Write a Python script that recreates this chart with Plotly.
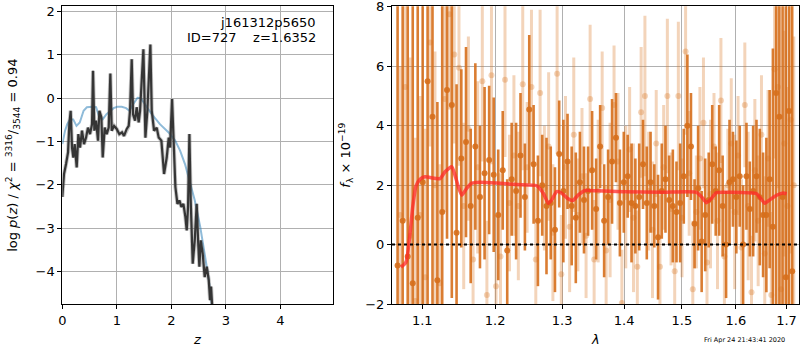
import plotly.graph_objects as go

# ---------------- left panel: p(z) ----------------
pz_z = [0.000, 0.031, 0.068, 0.105, 0.129, 0.153, 0.178, 0.202, 0.227, 0.264,
        0.294, 0.325, 0.361, 0.398, 0.435, 0.471, 0.508, 0.545, 0.563, 0.588,
        0.618, 0.655, 0.680, 0.716, 0.741, 0.777, 0.814, 0.851, 0.881, 0.906,
        0.949, 0.998, 1.046, 1.095, 1.132, 1.181, 1.218, 1.242, 1.273, 1.297,
        1.334, 1.364, 1.401, 1.426, 1.487, 1.524, 1.560, 1.615, 1.640, 1.683,
        1.731, 1.768, 1.817, 1.866, 1.915, 1.952, 1.976, 2.013, 2.037, 2.074,
        2.111, 2.147, 2.184, 2.221, 2.257, 2.282, 2.306, 2.331, 2.355, 2.392,
        2.429, 2.465, 2.490, 2.514, 2.539, 2.575, 2.612, 2.649, 2.686, 2.710,
        2.728, 2.753]
pz_logp = [-2.28, -1.75, -1.52, -1.25, -0.60, -0.29, -1.14, -1.37, -1.06, -1.60,
           -0.83, -1.14, -0.75, -1.06, -0.91, -0.68, -0.83, -0.60, 0.63, -0.75,
           -0.52, -0.98, -0.29, -0.44, -1.37, -0.68, -0.83, -0.68, 0.57, -0.75,
           -0.64, -0.71, -0.83, -0.79, -0.87, -0.71, -0.64, -0.29, 0.90, -0.37,
           -0.52, -0.21, -0.56, -0.29, 1.13, -0.91, -0.29, 1.24, -0.29, -0.75,
           -0.68, -0.91, -0.98, -1.75, -1.37, -0.91, -1.14, -0.02, -0.83, -2.05,
           -2.44, -2.36, -2.51, -2.44, -2.74, -3.05, -2.51, -0.83, -2.36, -3.82,
           -3.28, -2.44, -3.28, -3.89, -3.28, -3.59, -4.13, -3.89, -4.20, -4.66,
           -4.35, -4.89]

prior_z = [0.00, 0.05, 0.09, 0.14, 0.20, 0.26, 0.32, 0.39, 0.45, 0.54,
           0.62, 0.68, 0.74, 0.81, 0.87, 0.94, 1.01, 1.09, 1.17, 1.23,
           1.30, 1.38, 1.44, 1.52, 1.64, 1.79, 1.95, 2.07, 2.16, 2.25,
           2.34, 2.43, 2.53, 2.62, 2.68, 2.74, 2.77]
prior_logp = [-1.06, -0.75, -0.60, -0.49, -0.49, -0.64, -0.56, -0.29, -0.21, -0.20,
              -0.21, -0.44, -0.49, -0.37, -0.31, -0.23, -0.20, -0.20, -0.23, -0.29,
              -0.14, 0.01, 0.00, -0.14, -0.37, -0.60, -0.79, -0.98, -1.21, -1.52,
              -1.94, -2.36, -2.97, -3.66, -4.13, -4.74, -5.10]

z_ticks = [0, 1, 2, 3, 4]
logp_ticks = [-4, -3, -2, -1, 0, 1, 2]

# ---------------- right panel: spectrum ----------------
dark_wave = [1.0680, 1.0745, 1.0810, 1.0875, 1.0940, 1.1005, 1.1070, 1.1135, 1.1200, 1.1265,
             1.1330, 1.1395, 1.1460, 1.1525, 1.1590, 1.1655, 1.1720, 1.1785, 1.1850, 1.1915,
             1.1980, 1.2045, 1.2110, 1.2175, 1.2240, 1.2305, 1.2370, 1.2435, 1.2500, 1.2565,
             1.2630, 1.2695, 1.2760, 1.2825, 1.2890, 1.2955, 1.3020, 1.3085, 1.3150, 1.3215,
             1.3280, 1.3345, 1.3410, 1.3475, 1.3540, 1.3605, 1.3670, 1.3735, 1.3800, 1.3865,
             1.3930, 1.3995, 1.4060, 1.4125, 1.4190, 1.4255, 1.4320, 1.4385, 1.4450, 1.4515,
             1.4580, 1.4645, 1.4710, 1.4775, 1.4840, 1.4905, 1.4970, 1.5035, 1.5100, 1.5165,
             1.5230, 1.5295, 1.5360, 1.5425, 1.5490, 1.5555, 1.5620, 1.5685, 1.5750, 1.5815,
             1.5880, 1.5945, 1.6010, 1.6075, 1.6140, 1.6205, 1.6270, 1.6335, 1.6400, 1.6465,
             1.6530, 1.6595, 1.6660, 1.6725, 1.6790, 1.6855, 1.6920, 1.6985, 1.7050, 1.7115]
dark_flux = [-0.7, 0.8, -0.4, -1.3, 0.9, 2.1, 5.5, 4.3, -1.2, 1.1,
             5.2, 4.7, 0.4, 2.9, 3.45, 1.3, 3.3, 1.6, 2.4, 2.85,
             2.35, 1.0, 2.5, -0.2, 2.2, 1.8, 3.0, 1.6, 4.55, 2.7,
             0.8, 2.0, 1.3, 1.4, 0.5, 3.05, 1.8, 2.8, 1.3, 0.9,
             2.1, 1.5, 1.8, 2.5, 1.2, 3.3, 0.8, 1.6, 2.8, 3.6,
             1.4, 2.1, 2.3, 1.4, 1.3, 1.6, 2.7, 1.4, 2.1, 1.3,
             0.25, 1.8, 2.2, 1.5, 1.3, 1.1, 1.4, 2.3, 4.0, 3.3,
             0.7, 1.9, 0.1, 1.0, 1.5, 2.7, 1.8, 2.5, 1.3, 0.0,
             2.1, 2.2, 1.6, 2.3, 0.0, 2.3, 1.2, 1.8, 2.3, 1.6,
             1.0, 1.0, 2.2, 0.6, 5.1, 4.3, 1.6, -1.1, 4.5, -0.9]
dark_err = [12, 10, 14, 11, 9, 13, 10, 12, 6, 7,
            5, 6.5, 5, 3.0, 3.2, 2.6, 2.8, 2.4, 2.9, 2.5,
            2.6, 2.2, 2.0, 2.4, 1.9, 2.3, 2.1, 1.8, 2.5, 2.0,
            2.2, 1.7, 2.3, 1.9, 2.1, 1.8, 2.4, 1.6, 2.0, 2.2,
            1.7, 1.8, 1.5, 2.0, 1.7, 1.4, 1.9, 1.6, 2.1, 1.5,
            1.8, 1.7, 1.4, 2.0, 1.6, 1.8, 1.5, 1.9, 1.7, 1.4,
            2.1, 1.6, 1.8, 1.5, 1.9, 1.7, 2.0, 1.6, 2.4, 1.8,
            1.5, 2.1, 1.7, 1.9, 1.6, 2.0, 1.5, 2.2, 1.7, 1.8,
            2.1, 1.6, 1.9, 1.7, 2.0, 1.8, 1.6, 2.2, 1.9, 2.3,
            2.1, 2.6, 3.0, 6, 10, 9, 12, 11, 14, 13]

light_wave = [1.0713, 1.0778, 1.0843, 1.0908, 1.0973, 1.1038, 1.1103, 1.1168, 1.1233, 1.1298,
              1.1363, 1.1428, 1.1493, 1.1558, 1.1623, 1.1688, 1.1753, 1.1818, 1.1883, 1.1948,
              1.2013, 1.2078, 1.2143, 1.2208, 1.2273, 1.2338, 1.2403, 1.2468, 1.2533, 1.2598,
              1.2663, 1.2728, 1.2793, 1.2858, 1.2923, 1.2988, 1.3053, 1.3118, 1.3183, 1.3248,
              1.3313, 1.3378, 1.3443, 1.3508, 1.3573, 1.3638, 1.3703, 1.3768, 1.3833, 1.3898,
              1.3963, 1.4028, 1.4093, 1.4158, 1.4223, 1.4288, 1.4353, 1.4418, 1.4483, 1.4548,
              1.4613, 1.4678, 1.4743, 1.4808, 1.4873, 1.4938, 1.5003, 1.5068, 1.5133, 1.5198,
              1.5263, 1.5328, 1.5393, 1.5458, 1.5523, 1.5588, 1.5653, 1.5718, 1.5783, 1.5848,
              1.5913, 1.5978, 1.6043, 1.6108, 1.6173, 1.6238, 1.6303, 1.6368, 1.6433, 1.6498,
              1.6563, 1.6628, 1.6693, 1.6758, 1.6823, 1.6888, 1.6953, 1.7018, 1.7083, 1.7148]
light_flux = [1.0, 5.3, 0.3, -1.9, 1.0, -1.1, 6.8, 2.0, -1.3, 4.9,
              7.75, 6.4, 5.95, 1.3, 3.9, -0.5, 2.6, 5.5, -1.7, 5.7,
              -1.4, -0.4, 5.55, 1.4, 3.0, 1.3, 5.4, 2.6, 5.3, -0.5,
              5.1, 1.9, 3.3, 0.4, 5.75, -1.0, 2.6, 0.6, 3.7, 1.0,
              2.3, 0.3, 4.9, -0.5, 1.8, 4.6, -0.2, 1.5, 4.7, 2.8,
              -1.97, 1.6, 3.2, 0.9, -0.75, 4.45, 5.0, 1.8, 0.5, 3.4,
              -0.75, 2.6, 5.0, 1.2, -0.9, 5.0, 0.9, 6.5, 2.4, -1.5,
              1.1, 2.9, 4.1, -0.6, 1.7, 3.3, 0.8, 4.85, -0.4, 2.0,
              3.4, 1.1, 3.0, -0.1, 4.7, 1.3, -1.6, 2.5, 0.8, 3.7,
              -0.3, 2.9, -1.7, 5.9, 5.3, -1.5, 3.4, 1.3, 4.2, 2.0]
light_err = [5, 4.5, 6, 5.5, 4, 5, 3.5, 4.5, 4, 3.8,
             3.2, 3.0, 3.3, 2.8, 3.1, 2.6, 2.9, 2.7, 2.5, 3.0,
             2.4, 2.8, 2.6, 2.3, 2.7, 2.5, 2.9, 2.2, 2.6, 2.4,
             2.8, 2.1, 2.5, 2.3, 2.7, 2.0, 2.4, 2.2, 2.6, 1.9,
             2.3, 2.1, 2.5, 2.0, 2.4, 1.9, 2.2, 2.6, 2.0, 2.3,
             1.8, 2.4, 2.1, 2.5, 1.9, 2.2, 2.7, 2.0, 2.3, 1.8,
             2.4, 2.1, 2.6, 1.9, 2.2, 2.5, 2.0, 2.8, 2.1, 2.3,
             1.9, 2.4, 2.2, 2.0, 2.5, 1.8, 2.3, 2.1, 2.4, 1.9,
             2.2, 2.6, 2.0, 2.3, 2.1, 2.5, 1.9, 2.4, 2.2, 2.0,
             2.6, 2.3, 2.8, 3.0, 3.4, 3.2, 3.8, 4.0, 4.5, 5.0]

model_wave = [1.0723, 1.0788, 1.0840, 1.0875, 1.0917, 1.0970, 1.1035, 1.1235, 1.1303, 1.1394,
              1.1439, 1.1485, 1.1532, 1.1601, 1.1670, 1.1785, 1.2023, 1.2313, 1.2610, 1.2711,
              1.2787, 1.2839, 1.2916, 1.2994, 1.3081, 1.3166, 1.3255, 1.3361, 1.3548, 1.3985,
              1.4668, 1.5265, 1.5357, 1.5450, 1.5542, 1.5635, 1.5886, 1.6401, 1.6500, 1.6565,
              1.6665, 1.6799, 1.6932, 1.7001]
model_flux = [-0.76, -0.59, 0.37, 1.27, 1.97, 2.20, 2.28, 2.22, 2.45, 2.62,
              2.33, 1.94, 1.66, 1.90, 2.07, 2.10, 2.07, 2.02, 1.98, 1.73,
              1.39, 1.50, 1.78, 1.73, 1.56, 1.48, 1.67, 1.82, 1.81, 1.78,
              1.76, 1.76, 1.61, 1.41, 1.56, 1.75, 1.76, 1.71, 1.51, 1.39,
              1.51, 1.66, 1.74, 1.71]

wave_ticks = [1.1, 1.2, 1.3, 1.4, 1.5, 1.6, 1.7]
wave_tick_text = ["1.1", "1.2", "1.3", "1.4", "1.5", "1.6", "1.7"]
flux_ticks = [-2, 0, 2, 4, 6, 8]

obj_name = "j161312p5650"
obj_info = "ID=727    z=1.6352"
timestamp = "Fri Apr 24 21:43:41 2020"

FONT = "DejaVu Sans"
ORANGE = "rgba(214,111,28,0.9)"
ORANGE_LIGHT = "rgba(214,111,28,0.3)"

fig = go.Figure()

# left panel
fig.add_trace(go.Scatter(x=prior_z, y=prior_logp, mode="lines",
                         line=dict(color="rgba(31,119,180,0.5)", width=2),
                         xaxis="x", yaxis="y", showlegend=False))
fig.add_trace(go.Scatter(x=pz_z, y=pz_logp, mode="lines",
                         line=dict(color="rgba(60,60,60,0.3)", width=4),
                         xaxis="x", yaxis="y", showlegend=False))
fig.add_trace(go.Scatter(x=pz_z, y=pz_logp, mode="lines",
                         line=dict(color="#353535", width=2.2),
                         xaxis="x", yaxis="y", showlegend=False))

# right panel
fig.add_trace(go.Scatter(x=light_wave, y=light_flux, mode="markers",
                         marker=dict(color=ORANGE_LIGHT, size=6, line=dict(width=0)),
                         error_y=dict(type="data", array=light_err, visible=True,
                                      color=ORANGE_LIGHT, thickness=3, width=0),
                         xaxis="x2", yaxis="y2", showlegend=False))
fig.add_trace(go.Scatter(x=dark_wave, y=dark_flux, mode="markers",
                         marker=dict(color=ORANGE, size=6, line=dict(width=0)),
                         error_y=dict(type="data", array=dark_err, visible=True,
                                      color=ORANGE, thickness=2.6, width=0),
                         xaxis="x2", yaxis="y2", showlegend=False))
fig.add_trace(go.Scatter(x=model_wave, y=model_flux, mode="lines",
                         line=dict(color="rgba(255,40,40,0.75)", width=3.5, shape="spline",
                                   smoothing=0.5),
                         xaxis="x2", yaxis="y2", showlegend=False))

fig.add_shape(type="line", xref="x2 domain", yref="y2", x0=0, x1=1, y0=0, y1=0,
              line=dict(color="black", width=2, dash="dot"), layer="above")

axis_common = dict(showline=True, mirror=True, linecolor="black", linewidth=1,
                   ticks="outside", ticklen=4, tickcolor="black", tickwidth=1,
                   showgrid=True, gridcolor="#b0b0b0", gridwidth=1, zeroline=False,
                   automargin=False, ticklabeloverflow="allow",
                   tickfont=dict(family=FONT, size=13, color="black"))

fig.update_layout(
    width=800, height=350,
    margin=dict(l=0, r=0, t=0, b=0, pad=0),
    paper_bgcolor="white", plot_bgcolor="white",
    font=dict(family=FONT, size=13, color="black"),
    xaxis=dict(domain=[0.0779, 0.4166], range=[0, 4.97], tickvals=z_ticks,
               anchor="y", **axis_common),
    yaxis=dict(domain=[0.1314, 0.982], range=[-4.75, 2.12], tickvals=logp_ticks,
               anchor="x", **axis_common),
    xaxis2=dict(domain=[0.49, 0.9987], type="log", range=[0.02567, 0.23689],
                tickvals=wave_ticks, ticktext=wave_tick_text, anchor="y2", **axis_common),
    yaxis2=dict(domain=[0.1314, 0.982], range=[-2.0, 8.02], tickvals=flux_ticks,
                anchor="x2", **axis_common),
)

annots = [
    dict(text=obj_name, x=0.3975, y=0.937, xanchor="right", yanchor="middle"),
    dict(text=obj_info, x=0.3975, y=0.892, xanchor="right", yanchor="middle"),
    dict(text="<i>z</i>", x=0.247, y=0.03, xanchor="center", yanchor="middle"),
    dict(text="<i>λ</i>", x=0.744, y=0.03, xanchor="center", yanchor="middle"),
    dict(text="log <i>p</i>(<i>z</i>) / <i>χ</i><sup>2</sup> = <sup>3316</sup>/<sub>3544</sub> = 0.94",
         x=0.016, y=0.557, xanchor="center", yanchor="middle", textangle=-90),
    dict(text="<i>f</i><sub>λ</sub> × 10<sup>−19</sup>",
         x=0.432, y=0.557, xanchor="center", yanchor="middle", textangle=-90),
    dict(text=timestamp, x=0.984, y=0.028, xanchor="right", yanchor="middle",
         font=dict(family=FONT, size=6.5, color="black")),
]
for a in annots:
    a.setdefault("font", dict(family=FONT, size=13, color="black"))
    fig.add_annotation(xref="paper", yref="paper", showarrow=False, **a)

fig.write_html("out.html", config={"displayModeBar": False},
               post_script="document.body.style.margin='0';document.body.style.overflow='hidden';")
